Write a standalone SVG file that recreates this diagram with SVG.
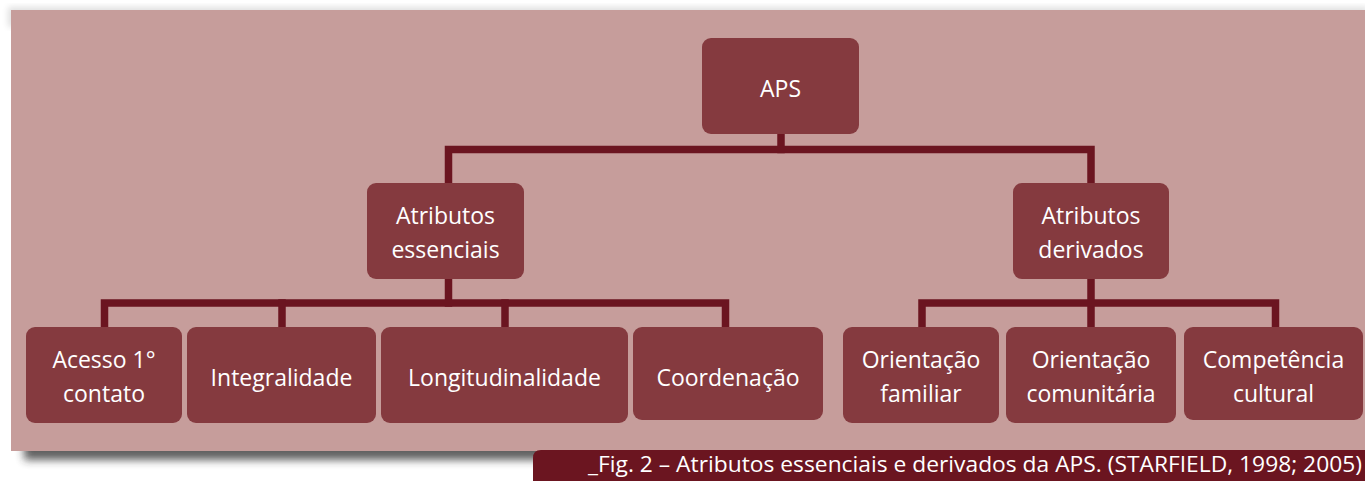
<svg xmlns="http://www.w3.org/2000/svg" width="1365" height="481" viewBox="0 0 1365 481">
  <defs>
    <filter id="blur" x="-5%" y="-20%" width="110%" height="140%">
      <feGaussianBlur stdDeviation="4"/>
    </filter>
    <filter id="blur2" x="-5%" y="-20%" width="110%" height="140%">
      <feGaussianBlur stdDeviation="3"/>
    </filter>
  </defs>
  <style>
    .box { fill: #853a3f; }
    .lbl { fill: #ffffff; font-family: "Open Sans", "Liberation Sans", sans-serif; font-size: 23px; text-anchor: middle; }
    .conn { stroke: #6b1520; stroke-width: 7.5; fill: none; stroke-linecap: square; }
    .cap { fill: #ffffff; font-family: "Open Sans", "Liberation Sans", sans-serif; font-size: 22px; }
  </style>
  <rect x="0" y="0" width="1365" height="481" fill="#ffffff"/>
  <!-- shadows -->
  <rect x="8" y="7" width="1360" height="20" fill="#000" opacity="0.12" filter="url(#blur2)"/>
  <rect x="24" y="20" width="1345" height="440" fill="#2a2a2a" opacity="0.75" filter="url(#blur)"/>
  <!-- panel -->
  <rect x="11" y="10" width="1354" height="441" fill="#c69d9b"/>

  <!-- caption bar -->
  <g id="caption">
    <path d="M533,481 V458 Q533,450 541,450 H1365 V481 Z" fill="#6b1520"/>
    <text class="cap" x="588" y="472" textLength="774" lengthAdjust="spacingAndGlyphs">_Fig. 2 – Atributos essenciais e derivados da APS. (STARFIELD, 1998; 2005)</text>
  </g>

  <g id="connectors">
    <path class="conn" d="M781,134 V149.5"/>
    <path class="conn" d="M448.5,183 V149.5 H1091 V183"/>
    <path class="conn" d="M448.5,279 V303"/>
    <path class="conn" d="M104.5,327 V303 H725.5 V327"/>
    <path class="conn" d="M282,303 V327"/>
    <path class="conn" d="M505,303 V327"/>
    <path class="conn" d="M1091,279 V327"/>
    <path class="conn" d="M922,327 V303 H1275.5 V327"/>
  </g>

  <g id="node-aps">
    <rect class="box" x="702" y="38" width="157" height="96" rx="9"/>
    <text class="lbl" x="780.5" y="97">APS</text>
  </g>
  <g id="node-essenciais">
    <rect class="box" x="367" y="183" width="157" height="96" rx="9"/>
    <text class="lbl" x="445.5" y="224">Atributos</text>
    <text class="lbl" x="445.5" y="258">essenciais</text>
  </g>
  <g id="node-derivados">
    <rect class="box" x="1013" y="183" width="156" height="96" rx="9"/>
    <text class="lbl" x="1091" y="224">Atributos</text>
    <text class="lbl" x="1091" y="258">derivados</text>
  </g>
  <g id="node-acesso">
    <rect class="box" x="26" y="327" width="156" height="96" rx="9"/>
    <text class="lbl" x="104" y="368">Acesso 1°</text>
    <text class="lbl" x="104" y="402">contato</text>
  </g>
  <g id="node-integralidade">
    <rect class="box" x="187" y="327" width="189" height="96" rx="9"/>
    <text class="lbl" x="281.5" y="386">Integralidade</text>
  </g>
  <g id="node-longitudinalidade">
    <rect class="box" x="381" y="327" width="247" height="96" rx="9"/>
    <text class="lbl" x="504.5" y="386">Longitudinalidade</text>
  </g>
  <g id="node-coordenacao">
    <rect class="box" x="633" y="327" width="190" height="93" rx="9"/>
    <text class="lbl" x="728" y="386">Coordenação</text>
  </g>
  <g id="node-familiar">
    <rect class="box" x="843" y="327" width="156" height="96" rx="9"/>
    <text class="lbl" x="921" y="368">Orientação</text>
    <text class="lbl" x="921" y="402">familiar</text>
  </g>
  <g id="node-comunitaria">
    <rect class="box" x="1006" y="327" width="170" height="96" rx="9"/>
    <text class="lbl" x="1091" y="368">Orientação</text>
    <text class="lbl" x="1091" y="402">comunitária</text>
  </g>
  <g id="node-cultural">
    <rect class="box" x="1184" y="327" width="179" height="93" rx="9"/>
    <text class="lbl" x="1273.5" y="368">Competência</text>
    <text class="lbl" x="1273.5" y="402">cultural</text>
  </g>
</svg>
